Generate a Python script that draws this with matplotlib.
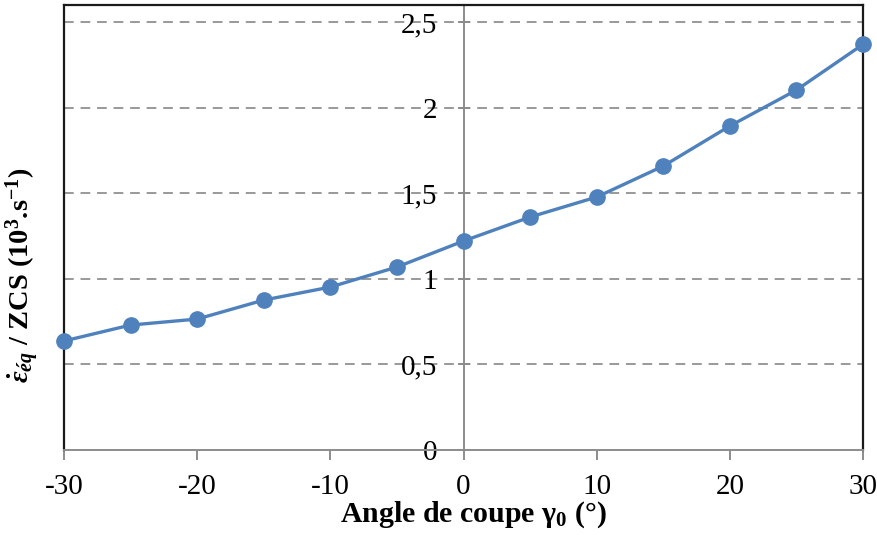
import numpy as np
import matplotlib
matplotlib.use('Agg')
import matplotlib.pyplot as plt
from matplotlib.ticker import FuncFormatter

# data
angles = [-30, -25, -20, -15, -10, -5, 0, 5, 10, 15, 20, 25, 30]
strain_rate = [0.637, 0.73, 0.765, 0.876, 0.952, 1.069, 1.221, 1.361, 1.478, 1.659, 1.893, 2.103, 2.37]
x_ticks = [-30, -20, -10, 0, 10, 20, 30]
y_ticks = [0, 0.5, 1, 1.5, 2, 2.5]

plt.rcParams['font.family'] = 'Liberation Serif'
plt.rcParams['axes.unicode_minus'] = False
plt.rcParams['mathtext.fontset'] = 'custom'
plt.rcParams['mathtext.rm'] = 'Liberation Serif:bold'
plt.rcParams['mathtext.it'] = 'Liberation Serif:italic:bold'
plt.rcParams['mathtext.bf'] = 'Liberation Serif:bold'

fig = plt.figure(figsize=(8.78, 5.35), dpi=100)
ax = fig.add_axes([64 / 878, 85 / 535, 799 / 878, 445 / 535])

grey = '#8c8c8c'

# dashed horizontal grid
for v in y_ticks[1:]:
    ax.axhline(v, color='#999999', lw=1.4, ls=(0, (5, 3.5)), zorder=1)

ax.plot(angles, strain_rate, color='#4F81BD', lw=2.4, marker='o', ms=11,
        clip_on=False, zorder=5)

ax.set_xlim(-30, 30)
ax.set_ylim(0, 2.6)

# y axis crossing at x = 0 (Excel style)
ax.spines['left'].set_position(('data', 0))
ax.spines['left'].set_color(grey)
ax.spines['left'].set_linewidth(1.4)
ax.spines['bottom'].set_color(grey)
ax.spines['bottom'].set_linewidth(1.4)
for s in ['top', 'right']:
    ax.spines[s].set_color('#1a1a1a')
    ax.spines[s].set_linewidth(1.6)
ax.axvline(-30, color='#1a1a1a', lw=1.6, clip_on=False, zorder=2)

ax.set_xticks(x_ticks)
ax.set_yticks(y_ticks)
ax.yaxis.set_major_formatter(FuncFormatter(lambda v, p: ('%g' % v).replace('.', ',')))
ax.tick_params(axis='x', direction='out', length=7, width=1.4, color=grey,
               labelsize=21, pad=10)
ax.tick_params(axis='y', direction='inout', length=8, width=1.4, color=grey,
               labelsize=21, pad=15)

ax.set_xlabel('Angle de coupe γ$_{0}$ (°)', fontsize=21.5, fontweight='bold')
ax.set_ylabel(r'$\dot{\varepsilon}_{éq}$ / ZCS (10$^{3}$.s$^{-1}$)', fontsize=20.5,
              fontweight='bold')
ax.xaxis.set_label_coords(0.512, -0.11)
ax.yaxis.set_label_coords(-0.028, 0.393)

fig.savefig('out.png', dpi=100)
